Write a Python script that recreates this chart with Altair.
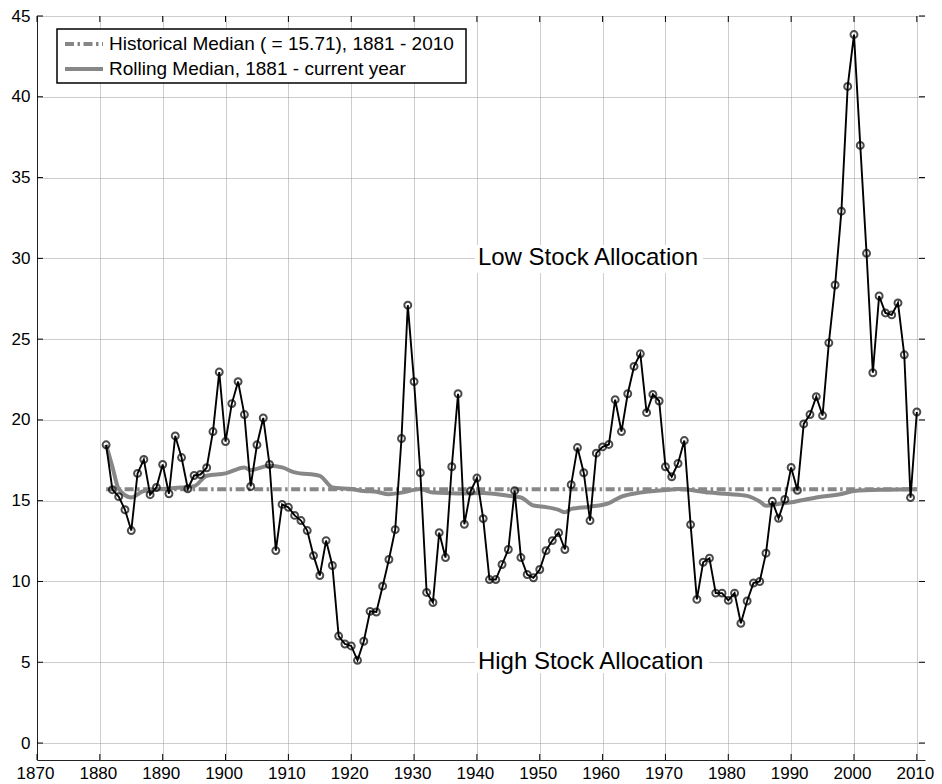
import altair as alt
import pandas as pd

# ---------------- data ----------------
years = list(range(1881, 2011))
values = [
    18.46, 15.68, 15.25, 14.44, 13.15, 16.69, 17.55, 15.37, 15.82, 17.24,   # 1881-1890
    15.43, 19.01, 17.67, 15.74, 16.56, 16.62, 17.04, 19.28, 22.96, 18.66,   # 1891-1900
    21.01, 22.37, 20.33, 15.88, 18.46, 20.12, 17.24, 11.91, 14.77, 14.59,   # 1901-1910
    14.09, 13.77, 13.15, 11.60, 10.37, 12.53, 10.99, 6.62, 6.13, 6.01,      # 1911-1920
    5.12, 6.30, 8.15, 8.11, 9.71, 11.36, 13.21, 18.85, 27.10, 22.37,        # 1921-1930
    16.73, 9.32, 8.70, 13.02, 11.48, 17.10, 21.62, 13.54, 15.60, 16.40,     # 1931-1940
    13.89, 10.12, 10.12, 11.05, 11.98, 15.62, 11.48, 10.43, 10.23, 10.74,   # 1941-1950
    11.91, 12.53, 13.02, 11.98, 15.99, 18.29, 16.73, 13.77, 17.94, 18.33,   # 1951-1960
    18.48, 21.25, 19.28, 21.62, 23.31, 24.09, 20.45, 21.58, 21.17, 17.10,   # 1961-1970
    16.48, 17.30, 18.72, 13.52, 8.89, 11.19, 11.44, 9.28, 9.28, 8.83,       # 1971-1980
    9.28, 7.41, 8.79, 9.90, 10.00, 11.75, 14.96, 13.91, 15.08, 17.06,       # 1981-1990
    15.64, 19.75, 20.33, 21.44, 20.27, 24.77, 28.35, 32.92, 40.64, 43.85,   # 1991-2000
    36.99, 30.31, 22.92, 27.67, 26.62, 26.50, 27.24, 24.03, 15.19, 20.49,   # 2001-2010
]

roll_years = [1881, 1882, 1883, 1885, 1887, 1890, 1893, 1895, 1897, 1900,
              1903, 1904, 1907, 1909, 1911, 1915, 1917, 1920, 1922, 1924,
              1926, 1928, 1931, 1933, 1937, 1941, 1945, 1947, 1949, 1951,
              1953, 1954, 1955, 1958, 1961, 1963, 1966, 1970, 1972, 1977,
              1980, 1983, 1985, 1986, 1988, 1990, 1994, 1998, 2000, 2005, 2010]
roll_values = [18.46, 17.10, 15.72, 15.20, 15.60, 15.72, 15.82, 15.90, 16.54, 16.69,
               17.06, 16.90, 17.16, 17.06, 16.75, 16.54, 15.82, 15.72, 15.60, 15.55,
               15.40, 15.50, 15.72, 15.50, 15.45, 15.47, 15.30, 15.20, 14.70, 14.60,
               14.43, 14.28, 14.49, 14.63, 14.85, 15.25, 15.50, 15.66, 15.72, 15.50,
               15.41, 15.30, 14.95, 14.69, 14.80, 14.90, 15.20, 15.41, 15.60, 15.68, 15.71]

hist_median = 15.71
hist_years = [1881, 2010]

x_ticks = list(range(1870, 2011, 10))
y_ticks = list(range(0, 46, 5))

legend_labels = ["Historical Median ( = 15.71), 1881 - 2010",
                 "Rolling Median, 1881 - current year"]
zone_labels = ["Low Stock Allocation", "High Stock Allocation"]
zone_levels = [30, 5]

# ---------------- layout / style ----------------
W, H = 888, 744
FONT = "Liberation Sans"
GRAY = "#878787"
ANN_X = 1940

xs = alt.Scale(domain=[1870, 2011.3], nice=False, zero=False)
ys = alt.Scale(domain=[-1.05, 45], nice=False, zero=False)

x_axis = alt.Axis(values=x_ticks, format="d", title=None, grid=True,
                  gridDash=[1, 1], gridColor="#9a9a9a", gridWidth=1,
                  ticks=False, domainColor="#222222", domainWidth=1,
                  labelFont=FONT, labelFontSize=17, labelColor="black",
                  labelPadding=5, labelOffset=-2, labelFlush=False)
y_axis = alt.Axis(values=y_ticks, title=None, grid=True,
                  gridDash=[1, 1], gridColor="#9a9a9a", gridWidth=1,
                  ticks=False, domainColor="#222222", domainWidth=1,
                  labelFont=FONT, labelFontSize=17, labelColor="black",
                  labelPadding=7)

def X(field="year"):
    return alt.X(f"{field}:Q", scale=xs, axis=x_axis)

def Y(field="value"):
    return alt.Y(f"{field}:Q", scale=ys, axis=y_axis)

df = pd.DataFrame({"year": years, "value": values})
roll = pd.DataFrame({"year": roll_years, "value": roll_values})
hist = pd.DataFrame({"year": hist_years, "value": [hist_median] * len(hist_years)})
xt = pd.DataFrame({"year": x_ticks})
yt = pd.DataFrame({"value": y_ticks})
zones = pd.DataFrame({"label": zone_labels, "value": zone_levels})

# grid / axes base
base = alt.Chart(df).mark_point(opacity=0).encode(x=X(), y=Y())

# inward tick marks on all four sides
tick_b = alt.Chart(xt).mark_rule(color="black", strokeWidth=1).encode(
    x=X(), y=alt.value(H), y2=alt.value(H - 6))
tick_t = alt.Chart(xt).mark_rule(color="black", strokeWidth=1).encode(
    x=X(), y=alt.value(0), y2=alt.value(6))
tick_l = alt.Chart(yt).mark_rule(color="black", strokeWidth=1).encode(
    y=Y(), x=alt.value(0), x2=alt.value(6))
tick_r = alt.Chart(yt).mark_rule(color="black", strokeWidth=1).encode(
    y=Y(), x=alt.value(W), x2=alt.value(W - 6))

# zone annotations on white background boxes
bg_low = alt.Chart(zones.iloc[[0]]).mark_rect(color="white").encode(
    x=alt.value(438), x2=alt.value(666),
    y=alt.value(229), y2=alt.value(257))
bg_high = alt.Chart(zones.iloc[[1]]).mark_rect(color="white").encode(
    x=alt.value(438), x2=alt.value(672),
    y=alt.value(632), y2=alt.value(657))
zone_text = alt.Chart(zones).mark_text(
    align="left", baseline="middle", font=FONT, fontSize=24, color="black", dx=1
).transform_calculate(year=str(ANN_X)).encode(x=X(), y=Y(), text="label:N")

# series
hist_line = alt.Chart(hist).mark_line(
    color=GRAY, strokeWidth=4, strokeDash=[9, 3.5, 2.5, 3.5], strokeCap="butt"
).encode(x=X(), y=Y())
roll_line = alt.Chart(roll).mark_line(
    color=GRAY, strokeWidth=4, interpolate="monotone"
).encode(x=X(), y=Y())
data_line = alt.Chart(df).mark_line(color="black", strokeWidth=1.9).encode(x=X(), y=Y())
data_pts = alt.Chart(df).mark_point(
    shape="circle", filled=False, color="black", size=48, strokeWidth=2
).encode(x=X(), y=Y())

# legend (manual, top-left box)
one = pd.DataFrame({"a": [0]})
leg_box = alt.Chart(one).mark_rect(fill="white", stroke="black", strokeWidth=1.5).encode(
    x=alt.value(20), x2=alt.value(429), y=alt.value(13), y2=alt.value(67))
leg_l1 = alt.Chart(one).mark_rule(
    color=GRAY, strokeWidth=4, strokeDash=[9, 3.5, 2.5, 3.5], strokeCap="butt"
).encode(x=alt.value(28), x2=alt.value(66), y=alt.value(28))
leg_l2 = alt.Chart(one).mark_rule(color=GRAY, strokeWidth=4).encode(
    x=alt.value(28), x2=alt.value(66), y=alt.value(53))
leg_t1 = alt.Chart(one).mark_text(
    align="left", baseline="middle", font=FONT, fontSize=19, color="black"
).encode(x=alt.value(72), y=alt.value(28), text=alt.value(legend_labels[0]))
leg_t2 = alt.Chart(one).mark_text(
    align="left", baseline="middle", font=FONT, fontSize=19, color="black"
).encode(x=alt.value(72), y=alt.value(53), text=alt.value(legend_labels[1]))

chart = alt.layer(
    base, bg_low, bg_high, zone_text,
    tick_b, tick_t, tick_l, tick_r,
    hist_line, roll_line, data_line, data_pts,
    leg_box, leg_l1, leg_l2, leg_t1, leg_t2,
).properties(
    width=W, height=H,
    autosize=alt.AutoSizeParams(type="none"),
    padding={"left": 29, "top": 8, "right": 9, "bottom": 22},
    background="white",
).configure_view(stroke=None)

chart.save("out.html", embed_options={"renderer": "svg", "actions": False})
